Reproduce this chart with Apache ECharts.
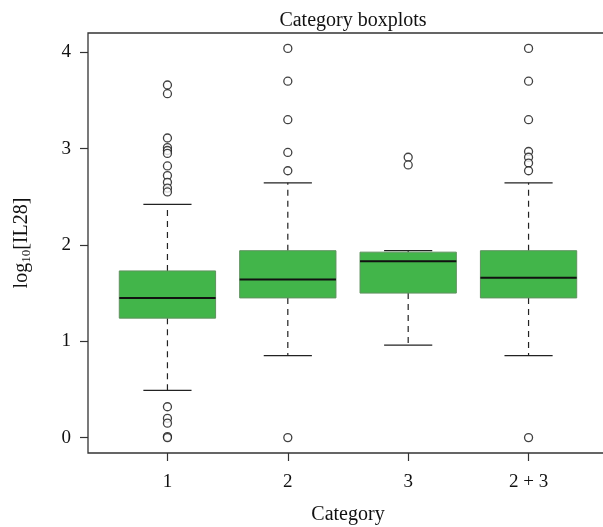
<!DOCTYPE html>
<html>
<head>
<meta charset="utf-8">
<script src="https://cdn.jsdelivr.net/npm/echarts@6/dist/echarts.min.js"></script>
<style>
  html, body { margin: 0; padding: 0; background: #fff; }
  #main { width: 603px; height: 527px; }
</style>
</head>
<body>
<div id="main"></div>
<script>
// categories and box stats
var categories = ['1', '2', '3', '2 + 3'];
var lowWhisker = [0.49, 0.85, 0.96, 0.85];
var q1 = [1.24, 1.45, 1.50, 1.45];
var median = [1.45, 1.64, 1.83, 1.66];
var q3 = [1.73, 1.94, 1.925, 1.94];
var highWhisker = [2.42, 2.645, 1.94, 2.645];

// outliers per category
var outliers1 = [3.66, 3.57, 3.11, 3.01, 2.98, 2.95, 2.82, 2.72, 2.65, 2.59, 2.55, 0.32, 0.2, 0.15, 0.01, 0];
var outliers2 = [4.04, 3.70, 3.30, 2.96, 2.77, 0];
var outliers3 = [2.91, 2.83];
var outliers23 = [4.04, 3.70, 3.30, 2.97, 2.91, 2.85, 2.77, 0];

var yTicks = [0, 1, 2, 3, 4];
var xTicks = [1, 2, 3, 4];

var boxData = categories.map(function (c, i) {
    return [i + 1, lowWhisker[i], q1[i], median[i], q3[i], highWhisker[i]];
});
var outlierData = [];
[outliers1, outliers2, outliers3, outliers23].forEach(function (arr, i) {
    arr.forEach(function (v) { outlierData.push([i + 1, v]); });
});

var serif = 'Liberation Serif';
var myChart = echarts.init(document.getElementById('main'));
myChart.setOption({
    animation: false,
    title: {
        text: 'Category boxplots',
        left: 348,
        textAlign: 'center',
        top: 6,
        textStyle: { fontFamily: serif, fontSize: 20, fontWeight: 'normal', color: '#111' }
    },
    grid: {
        left: 88, top: 33, width: 520, height: 420,
        outerBoundsMode: 'none',
        containLabel: false,
        show: true, borderColor: '#333', borderWidth: 1.3, backgroundColor: '#fff'
    },
    xAxis: {
        type: 'value',
        min: 0.34,
        max: 4.66,
        name: 'Category',
        nameLocation: 'middle',
        nameGap: 52,
        nameTextStyle: { fontFamily: serif, fontSize: 20, color: '#111' },
        splitLine: { show: false },
        axisLine: { show: false, onZero: false },
        axisTick: { show: true, customValues: xTicks, length: 8, lineStyle: { color: '#333', width: 1.2 } },
        axisLabel: {
            customValues: xTicks,
            margin: 20,
            fontFamily: serif, fontSize: 19, color: '#111',
            formatter: function (v) { return categories[Math.round(v) - 1]; }
        }
    },
    yAxis: {
        type: 'value',
        min: -0.16,
        max: 4.2,
        name: '{n|log}{s|10}{n|[IL28]}',
        nameLocation: 'middle',
        nameRotate: 90,
        nameGap: 55,
        nameTextStyle: {
            rich: {
                n: { fontFamily: serif, fontSize: 20, color: '#111' },
                s: { fontFamily: serif, fontSize: 13, color: '#111', padding: [10, 0, 0, 0] }
            }
        },
        splitLine: { show: false },
        axisLine: { show: false, onZero: false },
        axisTick: { show: true, customValues: yTicks, length: 8, lineStyle: { color: '#333', width: 1.2 } },
        axisLabel: {
            customValues: yTicks,
            margin: 17,
            fontFamily: serif, fontSize: 19, color: '#111'
        }
    },
    series: [{
        type: 'custom',
        data: boxData,
        renderItem: function (params, api) {
            var x = api.value(0);
            var lo = api.coord([x, api.value(1)]);
            var b1 = api.coord([x, api.value(2)]);
            var md = api.coord([x, api.value(3)]);
            var b3 = api.coord([x, api.value(4)]);
            var hi = api.coord([x, api.value(5)]);
            var boxW = api.size([0.8, 0])[0];
            var capW = api.size([0.4, 0])[0];
            var cx = lo[0];
            var whisk = { stroke: '#222', lineWidth: 1.2, lineDash: [6, 5] };
            var solid = { stroke: '#222', lineWidth: 1.3 };
            return {
                type: 'group',
                children: [
                    { type: 'line', shape: { x1: cx, y1: b3[1], x2: cx, y2: hi[1] }, style: whisk },
                    { type: 'line', shape: { x1: cx, y1: b1[1], x2: cx, y2: lo[1] }, style: whisk },
                    { type: 'line', shape: { x1: cx - capW / 2, y1: hi[1], x2: cx + capW / 2, y2: hi[1] }, style: solid },
                    { type: 'line', shape: { x1: cx - capW / 2, y1: lo[1], x2: cx + capW / 2, y2: lo[1] }, style: solid },
                    {
                        type: 'rect',
                        shape: { x: cx - boxW / 2, y: b3[1], width: boxW, height: b1[1] - b3[1] },
                        style: { fill: '#42b54a', stroke: '#5f925f', lineWidth: 1 }
                    },
                    { type: 'line', shape: { x1: cx - boxW / 2, y1: md[1], x2: cx + boxW / 2, y2: md[1] }, style: { stroke: '#111', lineWidth: 2 } }
                ]
            };
        }
    }, {
        type: 'scatter',
        data: outlierData,
        symbol: 'circle',
        symbolSize: 8,
        itemStyle: { color: '#fff', borderColor: '#111', borderWidth: 1.3 }
    }]
});
</script>
</body>
</html>
